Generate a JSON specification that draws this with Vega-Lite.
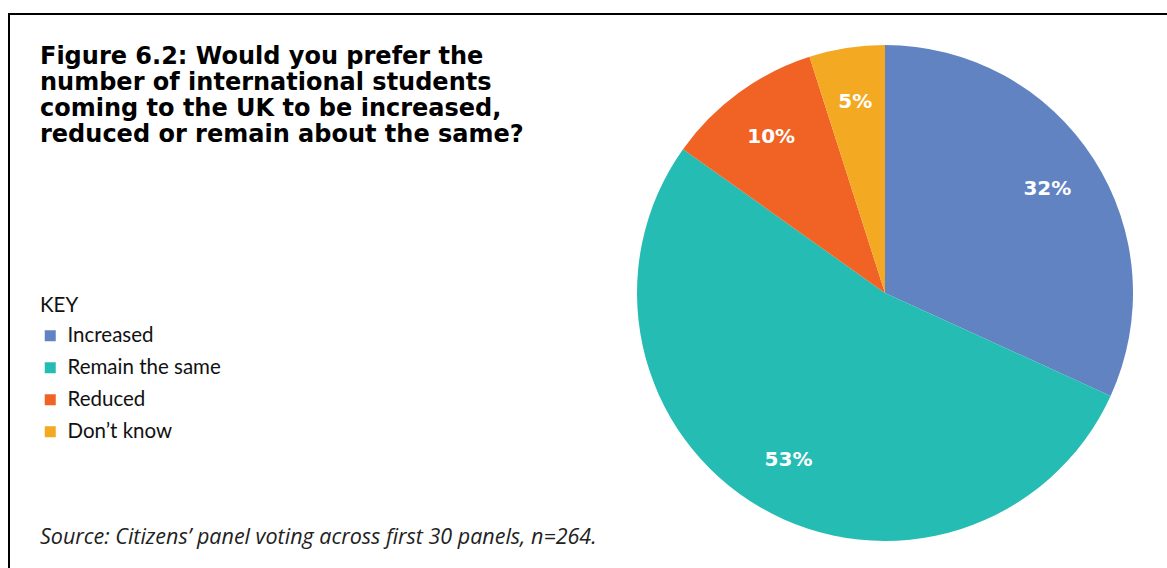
{
  "$schema": "https://vega.github.io/schema/vega-lite/v6.json",
  "autosize": "none",
  "padding": {"left": 9, "top": 14, "right": 0, "bottom": 0},
  "width": 1752,
  "height": 558,
  "background": "#ffffff",
  "view": {"stroke": "#000000", "strokeWidth": 2},
  "config": {
    "view": {"stroke": "#000000", "strokeWidth": 2},
    "font": "DejaVu Sans"
  },
  "title": {
    "text": ["Figure 6.2: Would you prefer the", "number of international students", "coming to the UK to be increased,", "reduced or remain about the same?"],
    "subtitle": "Source: Citizens’ panel voting across first 30 panels, n=264.",
    "anchor": "start",
    "frame": "group",
    "orient": "top",
    "baseline": "top",
    "dx": 31,
    "dy": 538,
    "font": "DejaVu Sans",
    "fontSize": 24,
    "fontWeight": "bold",
    "lineHeight": 26,
    "color": "#000000",
    "subtitleFont": "Open Sans",
    "subtitleFontSize": 21.5,
    "subtitleFontStyle": "italic",
    "subtitleColor": "#222222",
    "subtitlePadding": 380
  },
  "data": {
    "values": [
      {"answer": "Increased", "rank": 1, "count": 84, "label": "32%"},
      {"answer": "Remain the same", "rank": 2, "count": 140, "label": "53%"},
      {"answer": "Reduced", "rank": 3, "count": 27, "label": "10%"},
      {"answer": "Don’t know", "rank": 4, "count": 13, "label": "5%"}
    ]
  },
  "encoding": {
    "theta": {"field": "count", "type": "quantitative", "stack": true},
    "order": {"field": "rank", "type": "quantitative", "sort": "ascending"},
    "color": {
      "field": "answer",
      "type": "nominal",
      "sort": ["Increased", "Remain the same", "Reduced", "Don’t know"],
      "scale": {
        "domain": ["Increased", "Remain the same", "Reduced", "Don’t know"],
        "range": ["#6183c2", "#25bcb3", "#f06325", "#f3a922"]
      },
      "legend": {
        "title": "KEY",
        "orient": "none",
        "legendX": 31,
        "legendY": 282,
        "titleFont": "Lato",
        "titleFontSize": 20.5,
        "titleFontWeight": "normal",
        "titleColor": "#111111",
        "titlePadding": 9,
        "labelFont": "Lato",
        "labelFontSize": 20.5,
        "labelColor": "#111111",
        "labelOffset": 7,
        "symbolType": "square",
        "symbolSize": 121,
        "symbolStrokeWidth": 0,
        "symbolOpacity": 1,
        "rowPadding": 11
      }
    }
  },
  "layer": [
    {
      "mark": {"type": "arc", "outerRadius": 248, "stroke": null}
    },
    {
      "mark": {"type": "text", "radius": 193, "font": "DejaVu Sans", "fontWeight": "bold", "fontSize": 20, "color": "#ffffff"},
      "encoding": {
        "text": {"field": "label", "type": "nominal"},
        "color": {"value": "#ffffff"}
      }
    }
  ]
}
